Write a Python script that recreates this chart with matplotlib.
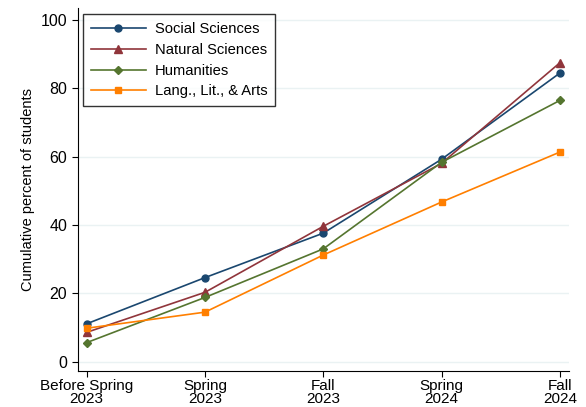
import numpy as np
import matplotlib.pyplot as plt

plt.rcParams['font.family'] = ['Liberation Sans', 'DejaVu Sans']

terms = ['Before Spring\n2023', 'Spring\n2023', 'Fall\n2023', 'Spring\n2024', 'Fall\n2024']
social = [11.1, 24.6, 37.6, 59.2, 84.4]
natural = [8.6, 20.3, 39.6, 58.0, 87.4]
humanities = [5.6, 18.8, 33.0, 58.3, 76.4]
lang = [9.8, 14.5, 31.2, 46.7, 61.3]

series = [
    ('Social Sciences', social, '#1a476f', 'o'),
    ('Natural Sciences', natural, '#90353b', '^'),
    ('Humanities', humanities, '#55752f', 'D'),
    ('Lang., Lit., & Arts', lang, '#ff7f00', 's'),
]

fig = plt.figure(figsize=(5.86, 4.07), dpi=100)
ax = fig.add_axes([0.1326, 0.0885, 0.838, 0.8915])

x = np.arange(len(terms))
for name, vals, col, mk in series:
    ms = {'o': 5, '^': 5.5, 'D': 4.2, 's': 5}[mk]
    ax.plot(x, vals, color=col, marker=mk, markersize=ms, linewidth=1.2, label=name)

ax.set_xlim(-0.076, 4.076)
ax.set_ylim(-2.7, 103.4)
ax.set_xticks(x)
ax.set_xticklabels(terms, fontsize=11, linespacing=0.85)
ax.set_yticks([0, 20, 40, 60, 80, 100])
ax.tick_params(axis='y', labelsize=11.5, length=4, width=0.8)
ax.tick_params(axis='x', length=4, width=0.8, pad=2)
ax.yaxis.grid(True, color='#eaf2f3', linewidth=1)
ax.set_axisbelow(True)
for s in ['top', 'right']:
    ax.spines[s].set_visible(False)
ax.set_ylabel('Cumulative percent of students', fontsize=10.5)

leg = ax.legend(loc='upper left', fontsize=10.6, frameon=True, fancybox=False,
                edgecolor='black', handlelength=3.75, handletextpad=0.6,
                borderaxespad=0.0, borderpad=0.55, labelspacing=0.45,
                bbox_to_anchor=(0.01, 0.983))
leg.get_frame().set_linewidth(1)

fig.savefig('out.png', dpi=100)
